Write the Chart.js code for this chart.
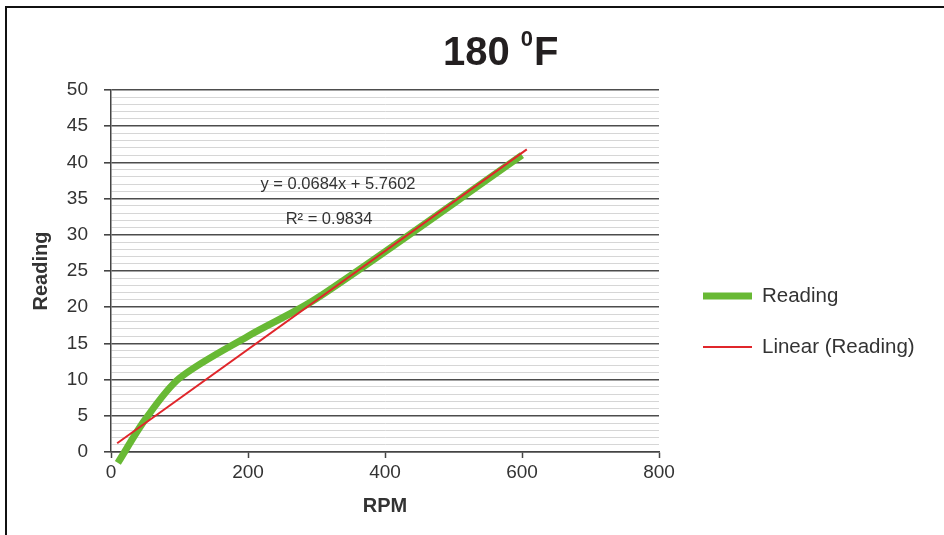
<!DOCTYPE html>
<html>
<head>
<meta charset="utf-8">
<script src="https://cdn.jsdelivr.net/npm/chart.js@4.4.0/dist/chart.umd.min.js"></script>
<style>
html, body { margin: 0; padding: 0; background: #fff; }
#wrap { position: relative; width: 944px; height: 535px; }
</style>
</head>
<body>
<div id="wrap"><canvas id="chart" width="944" height="535"></canvas></div>
<script>
// values
var rpm = [10, 50, 100, 200, 300, 600];
var reading = [-1.5, 4.5, 10.2, 16, 21.2, 41];
var trendRpm = [9, 607];
var trendReading = [1.2, 41.8];
var seriesNames = ['Reading', 'Linear (Reading)'];
var titleParts = ['180 ', '0', 'F'];
var equationLines = ['y = 0.0684x + 5.7602', 'R\u00b2 = 0.9834'];

var FONT = '"Liberation Sans", Arial, sans-serif';
var GREEN = '#68b934';
var RED = '#e0262b';
var TEXT = '#333333';

function toPoints(xs, ys) {
    var pts = [];
    for (var i = 0; i < xs.length; i++) {
        pts.push({ x: xs[i], y: ys[i] });
    }
    return pts;
}

var decor = {
    id: 'decor',
    beforeDraw: function (chart) {
        var ctx = chart.ctx;
        ctx.save();
        ctx.fillStyle = '#fff';
        ctx.fillRect(0, 0, chart.width, chart.height);
        ctx.restore();
    },
    afterDraw: function (chart) {
        var ctx = chart.ctx;
        ctx.save();
        // frame
        ctx.strokeStyle = '#111';
        ctx.lineWidth = 2;
        ctx.beginPath();
        ctx.moveTo(6, chart.height + 2);
        ctx.lineTo(6, 7);
        ctx.lineTo(chart.width + 2, 7);
        ctx.stroke();

        // title with superscript
        ctx.fillStyle = '#231f20';
        ctx.textBaseline = 'alphabetic';
        ctx.textAlign = 'left';
        var x = 443;
        ctx.font = 'bold 40px ' + FONT;
        ctx.fillText(titleParts[0], x, 65);
        x += ctx.measureText(titleParts[0]).width;
        ctx.font = 'bold 22px ' + FONT;
        ctx.fillText(titleParts[1], x, 46);
        x += ctx.measureText(titleParts[1]).width + 1;
        ctx.font = 'bold 40px ' + FONT;
        ctx.fillText(titleParts[2], x, 65);

        // trendline equation
        ctx.fillStyle = TEXT;
        ctx.font = '16.5px ' + FONT;
        ctx.textAlign = 'center';
        ctx.fillText(equationLines[0], 338, 189);
        ctx.fillText(equationLines[1], 329, 224);

        // legend
        var ds = chart.data.datasets;
        var rows = [296, 347];
        ctx.textAlign = 'left';
        ctx.textBaseline = 'middle';
        ctx.font = '20.5px ' + FONT;
        for (var i = 0; i < ds.length; i++) {
            ctx.strokeStyle = ds[i].borderColor;
            ctx.lineWidth = ds[i].borderWidth;
            ctx.beginPath();
            ctx.moveTo(703, rows[i]);
            ctx.lineTo(752, rows[i]);
            ctx.stroke();
            ctx.fillStyle = TEXT;
            ctx.fillText(ds[i].label, 762, rows[i]);
        }
        ctx.restore();
    }
};

var chart = new Chart(document.getElementById('chart'), {
    type: 'scatter',
    data: {
        datasets: [
            {
                label: seriesNames[0],
                data: toPoints(rpm, reading),
                showLine: true,
                borderColor: GREEN,
                backgroundColor: GREEN,
                borderWidth: 7,
                pointRadius: 0,
                tension: 0.3,
                clip: false,
                order: 2
            },
            {
                label: seriesNames[1],
                data: toPoints(trendRpm, trendReading),
                showLine: true,
                borderColor: RED,
                backgroundColor: RED,
                borderWidth: 2,
                pointRadius: 0,
                clip: false,
                order: 1
            }
        ]
    },
    options: {
        responsive: false,
        animation: false,
        layout: { padding: { left: 0, top: 90, right: 285, bottom: 0 } },
        plugins: {
            legend: { display: false },
            title: { display: false },
            tooltip: { enabled: false }
        },
        scales: {
            x: {
                type: 'linear',
                min: 0,
                max: 800,
                afterFit: function (s) { s.height = 83; },
                ticks: {
                    stepSize: 200,
                    color: TEXT,
                    font: { family: FONT, size: 19 },
                    padding: 3
                },
                grid: {
                    drawOnChartArea: false,
                    tickLength: 6,
                    tickColor: '#444',
                    tickWidth: 1.5
                },
                border: { color: '#444', width: 1.5 },
                title: {
                    display: true,
                    text: 'RPM',
                    color: TEXT,
                    font: { family: FONT, size: 20, weight: 'bold' },
                    padding: { top: 0, bottom: 17 }
                }
            },
            y: {
                min: 0,
                max: 50,
                afterFit: function (s) { s.width = 111; },
                ticks: {
                    stepSize: 1,
                    autoSkip: false,
                    color: TEXT,
                    font: { family: FONT, size: 19 },
                    padding: 16,
                    callback: function (v) { return v % 5 === 0 ? v : ''; }
                },
                grid: {
                    tickLength: 7,
                    color: function (c) { return c.tick && c.tick.value % 5 === 0 ? '#4d4d4d' : '#d6d6d6'; },
                    lineWidth: function (c) { return c.tick && c.tick.value % 5 === 0 ? 1.6 : 1; },
                    tickColor: function (c) { return c.tick && c.tick.value % 5 === 0 ? '#444' : 'rgba(0,0,0,0)'; }
                },
                border: { color: '#444', width: 1.5 },
                title: {
                    display: true,
                    text: 'Reading',
                    color: TEXT,
                    font: { family: FONT, size: 20, weight: 'bold' },
                    padding: { top: 29, bottom: 0 }
                }
            }
        }
    },
    plugins: [decor]
});
</script>
</body>
</html>
